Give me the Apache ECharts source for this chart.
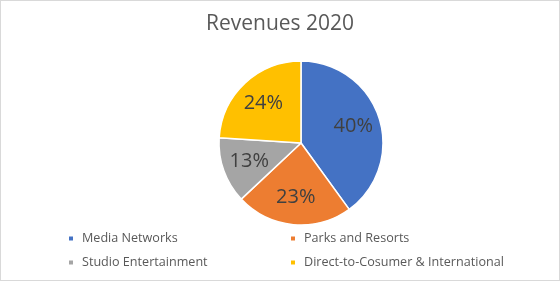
<!DOCTYPE html>
<html>
<head>
<meta charset="utf-8">
<script src="https://cdn.jsdelivr.net/npm/echarts@6/dist/echarts.min.js"></script>
<style>
  html, body { margin: 0; padding: 0; background: #fff; }
  #chart { width: 558px; height: 279px; border: 1px solid #d9d9d9; }
</style>
</head>
<body>
<div id="chart"></div>
<script>
// Revenues 2020 share by segment
const segments = ['Media Networks', 'Parks and Resorts', 'Studio Entertainment', 'Direct-to-Cosumer & International'];
const shares = [40, 23, 13, 24];
const segmentColors = ['#4472c4', '#ed7d31', '#a5a5a5', '#ffc000'];

const chart = echarts.init(document.getElementById('chart'));
const font = 'Open Sans, Noto Sans, sans-serif';

const legendBase = {
  orient: 'vertical',
  itemWidth: 6,
  itemHeight: 6,
  itemGap: 11,
  icon: 'rect',
  textStyle: { fontFamily: font, fontSize: 12.6, color: '#595959', padding: [0, 0, 0, 3] },
  top: 226,
};

const pieCommon = {
  type: 'pie',
  center: [300, 142],
  startAngle: 90,
  clockwise: true,
  labelLine: { show: false },
  emphasis: { disabled: true },
  animation: false,
};

chart.setOption({
  animation: false,
  title: {
    text: 'Revenues 2020',
    left: 'center',
    top: 8,
    textStyle: { fontFamily: font, fontSize: 21, fontWeight: 'normal', color: '#595959' },
  },
  legend: [
    Object.assign({}, legendBase, { left: 61, data: [segments[0], segments[2]] }),
    Object.assign({}, legendBase, { left: 283, data: [segments[1], segments[3]] }),
  ],
  series: [
    Object.assign({}, pieCommon, {
      radius: 82,
      data: segments.map((name, i) => ({ name, value: shares[i], itemStyle: { color: segmentColors[i] } })),
      itemStyle: { borderColor: '#fff', borderWidth: 1.5 },
      label: { show: false },
    }),
    // label-only overlay so the percentages sit a bit further out than mid-radius
    Object.assign({}, pieCommon, {
      radius: [22, 82],
      silent: true,
      legendHoverLink: false,
      data: segments.map((name, i) => ({ name, value: shares[i] })),
      itemStyle: { color: 'rgba(0,0,0,0)' },
      label: {
        position: 'inner',
        formatter: '{d}%',
        fontFamily: font,
        fontSize: 20,
        color: '#404040',
      },
    }),
  ],
});
</script>
</body>
</html>
